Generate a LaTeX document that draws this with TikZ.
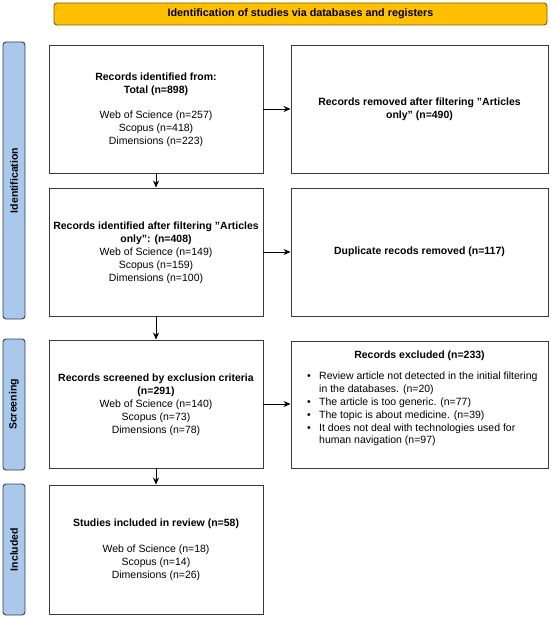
\documentclass[tikz,border=0pt]{standalone}
\usepackage{fontspec}
\setmainfont{Liberation Sans}
\usetikzlibrary{arrows.meta}
\newcommand{\sq}{\char34\relax}
\definecolor{titlefill}{HTML}{FFC000}
\definecolor{titledraw}{HTML}{7F6000}
\definecolor{sidefill}{HTML}{A9C8EC}
\definecolor{sidedraw}{HTML}{2F4058}
\definecolor{boxdraw}{HTML}{3A3A3A}
\tikzset{
  every node/.style={font=\fontsize{10.5}{13}\selectfont, inner sep=0pt},
  stagebox/.style={draw=boxdraw, line width=0.9pt, fill=white, align=center},
  sidebar/.style={draw=sidedraw, fill=sidefill, line width=0.9pt, rounded corners=3pt,
    minimum width=22pt, inner sep=0pt},
  sidelabel/.style={rotate=90, font=\fontsize{10.5}{13}\selectfont\bfseries},
  titlebar/.style={draw=titledraw, fill=titlefill, line width=0.9pt, rounded corners=3pt,
    minimum width=493pt, minimum height=22pt, font=\fontsize{10.8}{13}\selectfont\bfseries},
  flow/.style={-{Stealth[length=7pt,width=6pt]}, line width=0.9pt, black},
}
\begin{document}
\begin{tikzpicture}[x=1pt,y=-1pt]
\useasboundingbox (0,0) rectangle (550,618);

% title
\node[titlebar] (title) at (300.5,14) {Identification of studies via databases and registers};

% side bars
\node[sidebar, minimum height=277pt] (sideid) at (14,180.5) {};
\node[sidelabel] (sideidt) at (sideid.center) {Identification};
\node[sidebar, minimum height=131pt] (sidescr) at (14,404.5) {};
\node[sidelabel] (sidescrt) at (sidescr.center) {Screening};
\node[sidebar, minimum height=131pt] (sideinc) at (14,549.5) {};
\node[sidelabel] (sideinct) at (sideinc.center) {Included};

% left column
\node[stagebox, minimum width=214pt, minimum height=128pt] (b1) at (156,109) {};
\node[align=center] (b1t) at (156,110) {\textbf{Records identified from:}\\ \textbf{Total (n=898)}\\[12.5pt]
Web of Science (n=257)\\ Scopus (n=418)\\ Dimensions (n=223)};

\node[stagebox, minimum width=214pt, minimum height=128pt] (b2) at (156,252) {};
\node[align=center] (b2t) at (156,252.5) {\textbf{Records identified after filtering \sq Articles}\\ \textbf{only\sq: (n=408)}\\
Web of Science (n=149)\\ Scopus (n=159)\\ Dimensions (n=100)};

\node[stagebox, minimum width=214pt, minimum height=128pt] (b3) at (156,404) {};
\node[align=center] (b3t) at (156,404.5) {\textbf{Records screened by exclusion criteria}\\ \textbf{(n=291)}\\
Web of Science (n=140)\\ Scopus (n=73)\\ Dimensions (n=78)};

\node[stagebox, minimum width=214pt, minimum height=129pt] (b4) at (156,549.5) {};
\node[align=center] (b4t) at (156,550) {\textbf{Studies included in review (n=58)}\\[12.5pt]
Web of Science (n=18)\\ Scopus (n=14)\\ Dimensions (n=26)};

% right column
\node[stagebox, minimum width=257pt, minimum height=128pt] (r1) at (419.5,109) {};
\node[align=center] (r1t) at (r1.center) {\textbf{Records removed after filtering \sq Articles}\\ \textbf{only\sq{} (n=490)}};

\node[stagebox, minimum width=257pt, minimum height=128pt] (r2) at (419.5,252) {};
\node[align=center] (r2t) at (r2.center) {\textbf{Duplicate recods removed (n=117)}};

\node[stagebox, minimum width=257pt, minimum height=127pt] (r3) at (419.5,404.5) {};
\node[align=center] (r3h) at (419.5,356) {\textbf{Records excluded (n=233)}};
\node[align=left, anchor=north west, font=\fontsize{10.5}{12.8}\selectfont] (r3t) at (306,372) {%
\makebox[13pt][l]{\hspace{1pt}\textbullet}Review article not detected in the initial filtering\\
\hspace*{13pt}in the databases. (n=20)\\
\makebox[13pt][l]{\hspace{1pt}\textbullet}The article is too generic. (n=77)\\
\makebox[13pt][l]{\hspace{1pt}\textbullet}The topic is about medicine. (n=39)\\
\makebox[13pt][l]{\hspace{1pt}\textbullet}It does not deal with technologies used for\\
\hspace*{13pt}human navigation (n=97)};

% connectors
\draw[flow] (b1) -- (b2);
\draw[flow] (b2) -- (b3);
\draw[flow] (b3) -- (b4);
\draw[flow] (b1) -- (r1);
\draw[flow] (b2) -- (r2);
\draw[flow] (b3.east) -- (r3.west |- b3.east);
\end{tikzpicture}
\end{document}
